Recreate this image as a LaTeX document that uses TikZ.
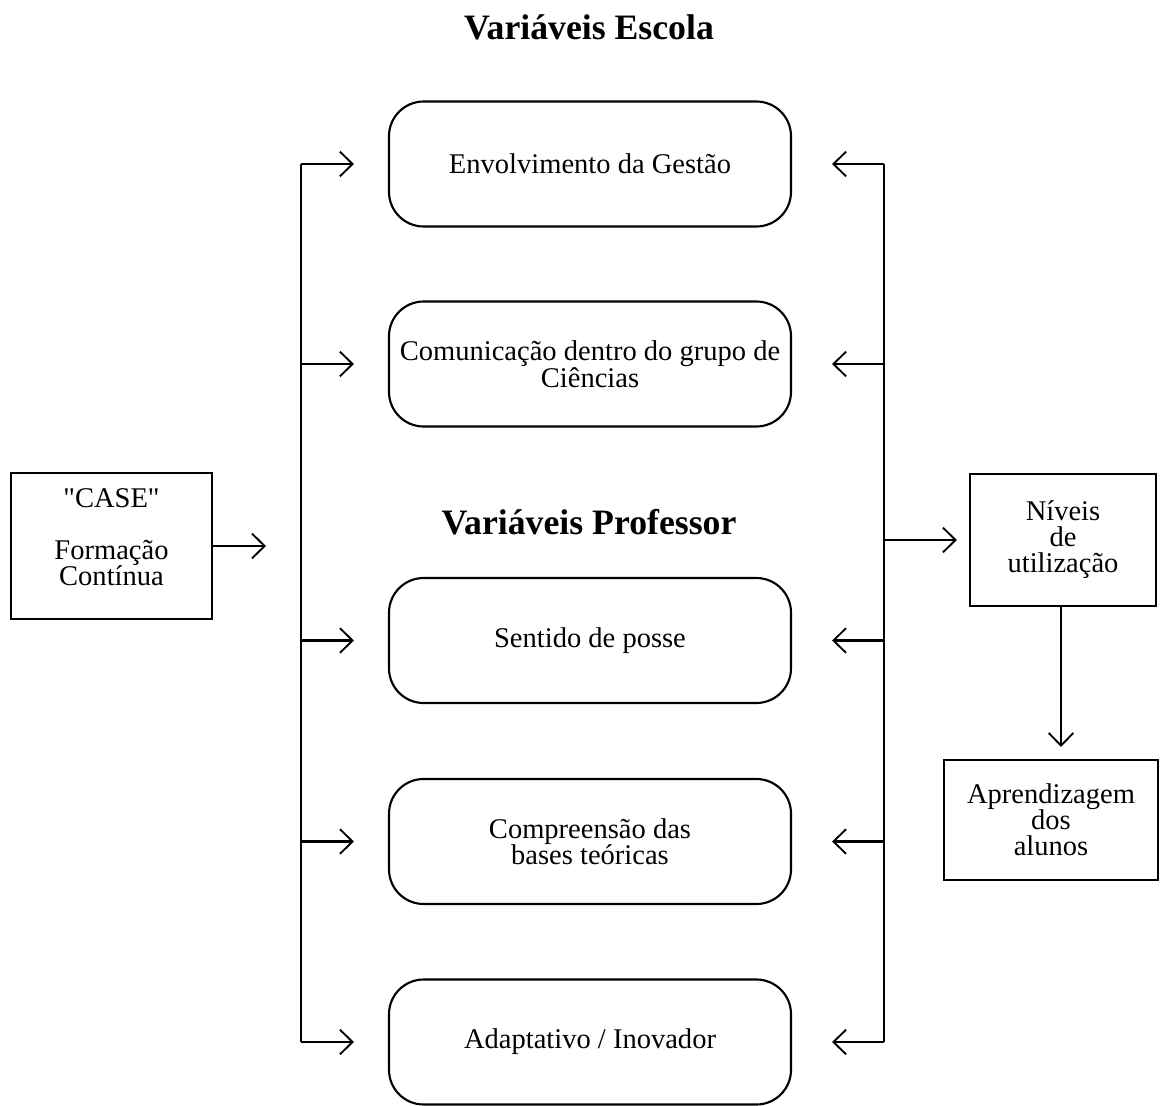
\documentclass[tikz,border=0pt]{standalone}
\usepackage{fontspec}
\setmainfont{Liberation Serif}[Ligatures=TeXOff]
\usetikzlibrary{arrows.meta}
\begin{document}
\begin{tikzpicture}[x=0.75pt,y=-0.75pt,
  ln/.style={line width=1.6pt},
  arr/.style={ln,-{Straight Barb[length=9.5pt,width=18.5pt,line width=1.4pt]}},
  txt/.style={font=\fontsize{21.4}{19.5}\selectfont},
  rbox/.style={draw,line width=1.6pt,rounded corners=26pt,minimum width=301.5pt,minimum height=93.75pt,align=center,txt,inner sep=0pt},
  sbox/.style={draw,line width=1.6pt,align=center,txt,inner sep=0pt},
  ttl/.style={font=\fontsize{26.8}{30}\selectfont\bfseries}]
\useasboundingbox (0,0) rectangle (1160,1106);
% titles
\node[ttl] (t1) at (589,27) {Variáveis Escola};
\node[ttl] (t2) at (589,522) {Variáveis Professor};
% rounded boxes
\node[rbox] (b1) at (590,164) {Envolvimento da Gestão};
\node[rbox] (b2) at (590,364) {Comunicação dentro do grupo de\\Ciências};
\node[rbox] (b3) at (590,640.5) {Sentido de posse};
\node[rbox] (b4) at (590,841.5) {Compreensão das\\bases teóricas};
\node[rbox] (b5) at (590,1042) {Adaptativo / Inovador};
% side boxes
\node[sbox,minimum width=150.75pt,minimum height=109.5pt,text depth=13.5pt] (case) at (111.5,546) {"CASE"\\[19.5pt]Formação\\Contínua};
\node[sbox,minimum width=139.5pt,minimum height=99pt] (niv) at (1063,540) {Níveis\\de\\utilização};
\node[sbox,minimum width=160.5pt,minimum height=90pt] (apr) at (1051,820) {Aprendizagem\\dos\\alunos};
% buses
\coordinate (lx) at (301,0);
\coordinate (rx) at (884,0);
\coordinate (caseend) at (266,546);
\draw[ln] (lx |- b1) -- (lx |- b5);
\draw[ln] (rx |- b1) -- (rx |- b5);
\draw[arr] (case.east |- caseend) -- (caseend);
\foreach \b in {b1,b2,b3,b4,b5}{
  \draw[arr] (lx |- \b) -- ([xshift=-25.5pt]\b.west);
  \draw[arr] (rx |- \b) -- ([xshift=30pt]\b.east);
}
\draw[arr] (rx |- niv) -- ([xshift=-9pt]niv.west);
\draw[arr] (niv.south -| 1061,0) -- ([yshift=9pt]apr.north -| 1061,0);
\end{tikzpicture}
\end{document}
